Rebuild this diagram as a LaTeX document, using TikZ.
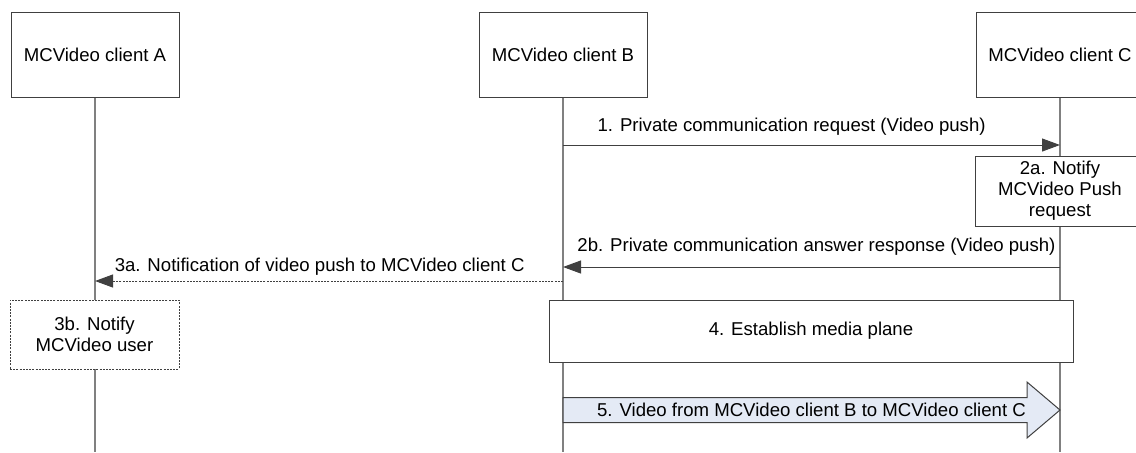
\documentclass[tikz,border=0pt]{standalone}
\usepackage{fontspec}
\setmainfont{Liberation Sans}
\usepackage{tikz}
\usetikzlibrary{arrows.meta, positioning, calc}
\definecolor{linegray}{HTML}{404040}
\definecolor{lifegray}{HTML}{808080}
\definecolor{pushblue}{HTML}{E4EAF5}

\begin{document}
\begin{tikzpicture}[x=0.5pt,y=-0.5pt,font=\fontsize{9.3}{10.5}\selectfont,
  client/.style={draw=linegray,fill=white,line width=0.5pt,minimum width=84pt,minimum height=42.5pt},
  box/.style={draw=linegray,fill=white,line width=0.5pt,align=center,inner sep=1pt},
  life/.style={draw=lifegray,line width=0.8pt},
  msg/.style={draw=linegray,line width=0.5pt,-{Triangle[length=9pt,width=6.5pt]}},
  dots/.style={dash pattern=on 1pt off 0.6pt}]
  \useasboundingbox (0,0) rectangle (1136,452);
  % clients
  \node[client] (A) at (95,54.5) {MCVideo client A};
  \node[client] (B) at (563,54.5) {MCVideo client B};
  \node[client] (C) at (1060,54.5) {MCVideo client C};
  \coordinate (Aend) at (95,452);
  \coordinate (Bend) at (563,452);
  \coordinate (Cend) at (1060,452);
  \draw[life] (A) -- (Aend);
  \draw[life] (B) -- (Bend);
  \draw[life] (C) -- (Cend);
  % 1
  \coordinate (b1) at (563,145);
  \coordinate (c1) at (1060,145);
  \draw[msg] (b1) -- (c1) node[pos=0.46,above=1pt]{1. Private communication request (Video push)};
  % 2a
  \node[box,minimum width=85pt,minimum height=35pt] (notify) at (1060,191) {2a. Notify\\MCVideo Push\\request};
  % 2b
  \coordinate (c2) at (1060,267);
  \coordinate (b2) at (563,267);
  \draw[msg] (c2) -- (b2) node[pos=0.49,above=2pt]{2b. Private communication answer response (Video push)};
  % 3a
  \coordinate (b3) at (563,281);
  \coordinate (a3) at (95,281);
  \draw[msg,dots] (b3) -- (a3) node[pos=0.52,above=-1pt]{3a. Notification of video push to MCVideo client C};
  % 3b
  \node[box,dots,minimum width=84.5pt,minimum height=34.5pt] (user) at (94.5,334.5) {3b. Notify\\MCVideo user};
  % 4
  \node[box,minimum width=262pt,minimum height=31pt] (media) at (811,331) {4. Establish media plane};
  % 5
  \coordinate (b5) at (563,410);
  \coordinate (c5) at (1060,410);
  \draw[draw=linegray,line width=0.5pt,fill=pushblue]
    ($(b5)+(0,-12.5)$) -- ($(c5)+(-33,-12.5)$) -- ($(c5)+(-33,-28)$) -- (c5)
    -- ($(c5)+(-33,28)$) -- ($(c5)+(-33,12.5)$) -- ($(b5)+(0,12.5)$) -- cycle;
  \node (video) at ($(b5)!0.5!(c5)$) {5. Video from MCVideo client B to MCVideo client C};
\end{tikzpicture}
\end{document}
